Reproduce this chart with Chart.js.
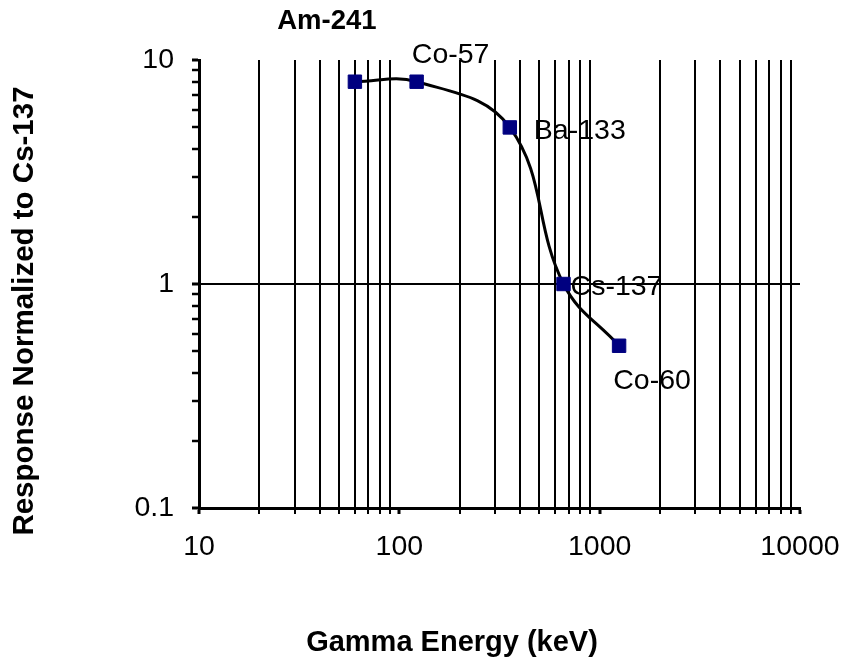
<!DOCTYPE html>
<html>
<head>
<meta charset="utf-8">
<script src="https://cdn.jsdelivr.net/npm/chart.js@4.4.0/dist/chart.umd.min.js"></script>
<style>
html, body { margin: 0; padding: 0; background: #fff; }
#wrap { width: 845px; height: 667px; }
</style>
</head>
<body>
<div id="wrap"><canvas id="responseChart"></canvas></div>
<script>
// source data
const sources = ['Am-241', 'Co-57', 'Ba-133', 'Cs-137', 'Co-60'];
const energies = [60, 122, 356, 660, 1250];
const responses = [8.0, 8.0, 5.0, 1.0, 0.53];
const xTickLabels = [10, 100, 1000, 10000];
const yTickLabels = [0.1, 1, 10];

const FONT = '"Liberation Sans", Arial, sans-serif';

function isDecade(v) {
    let l = Math.log10(v);
    return Math.abs(l - Math.round(l)) < 1e-6;
}
function tickText(v, list) {
    for (let i = 0; i < list.length; i++) {
        if (Math.abs(v - list[i]) < list[i] * 1e-6) return String(list[i]);
    }
    return '';
}
// 1..9 x 10^n ticks between two decades (like Excel's minor units)
function logTicks(min, max) {
    let ticks = [];
    for (let d = min; d < max * 0.999; d *= 10) {
        for (let k = 1; k < 10; k++) ticks.push({ value: Number((d * k).toPrecision(3)) });
    }
    ticks.push({ value: max });
    return ticks;
}

// label placement around each point (text centre minus point centre)
const labelOffsets = [[-28, -60], [34, -27], [70, 4], [53, 3], [33, 35]];
const labelBold = [true, false, false, false, false];

const pointLabels = {
    id: 'pointLabels',
    beforeDatasetsDraw(chart) {
        let ctx = chart.ctx;
        let meta = chart.getDatasetMeta(0);
        ctx.save();
        ctx.fillStyle = '#000';
        ctx.textAlign = 'center';
        ctx.textBaseline = 'middle';
        meta.data.forEach((pt, i) => {
            ctx.font = labelBold[i] ? 'bold 27.5px ' + FONT : '28.5px ' + FONT;
            ctx.fillText(sources[i], pt.x + labelOffsets[i][0], pt.y + labelOffsets[i][1]);
        });
        ctx.restore();
    }
};

const axisTitles = {
    id: 'axisTitles',
    afterDraw(chart) {
        let ctx = chart.ctx;
        ctx.save();
        ctx.fillStyle = '#000';
        ctx.textAlign = 'center';
        ctx.textBaseline = 'middle';
        ctx.font = 'bold 29px ' + FONT;
        ctx.fillText('Gamma Energy (keV)', 452, 643);
        ctx.translate(25, 311);
        ctx.rotate(-Math.PI / 2);
        ctx.font = 'bold 29.5px ' + FONT;
        ctx.fillText('Response Normalized to Cs-137', 0, 0);
        ctx.restore();
    }
};

let chartCtx = document.getElementById('responseChart').getContext('2d');

new Chart(chartCtx, {
    type: 'scatter',
    data: {
        datasets: [{
            data: energies.map((e, i) => ({ x: e, y: responses[i] })),
            showLine: true,
            borderColor: '#000',
            borderWidth: 3,
            tension: 0.4,
            pointStyle: 'rect',
            pointRadius: 9.5,
            pointHoverRadius: 9.5,
            pointBackgroundColor: '#000080',
            pointBorderColor: '#000080',
            pointBorderWidth: 1
        }]
    },
    options: {
        responsive: true,
        maintainAspectRatio: false,
        animation: false,
        devicePixelRatio: 1,
        layout: {
            padding: { left: 0, right: 45, top: 60, bottom: 0 }
        },
        plugins: {
            legend: { display: false },
            tooltip: { enabled: false }
        },
        scales: {
            x: {
                type: 'logarithmic',
                position: 'bottom',
                min: 10,
                max: 10000,
                afterBuildTicks: s => { s.ticks = logTicks(10, 10000); },
                afterFit: s => {
                    s.height = 159;
                    s.paddingLeft = 0;
                    s.paddingRight = 0;
                },
                border: { display: true, width: 3, color: '#000' },
                grid: {
                    color: c => isDecade(c.tick.value) ? 'rgba(0,0,0,0)' : '#000',
                    lineWidth: 2,
                    tickColor: '#000',
                    tickWidth: c => isDecade(c.tick.value) ? 3 : 2,
                    tickLength: 6
                },
                ticks: {
                    autoSkip: false,
                    maxRotation: 0,
                    padding: 16,
                    color: '#000',
                    font: { family: FONT, size: 28.5 },
                    callback: v => tickText(v, xTickLabels)
                }
            },
            y: {
                type: 'logarithmic',
                position: 'left',
                min: 0.1,
                max: 10,
                afterBuildTicks: s => { s.ticks = logTicks(0.1, 10); },
                afterFit: s => {
                    s.width = 199;
                    s.paddingTop = 0;
                    s.paddingBottom = 0;
                },
                border: { display: true, width: 3, color: '#000' },
                grid: {
                    color: c => Math.abs(c.tick.value - 1) < 1e-6 ? '#000' : 'rgba(0,0,0,0)',
                    lineWidth: 2,
                    tickColor: '#000',
                    tickWidth: c => isDecade(c.tick.value) ? 3 : 2.5,
                    tickLength: 7
                },
                ticks: {
                    autoSkip: false,
                    padding: 18,
                    color: '#000',
                    font: { family: FONT, size: 28.5 },
                    callback: v => tickText(v, yTickLabels)
                }
            }
        }
    },
    plugins: [pointLabels, axisTitles]
});
</script>
</body>
</html>
